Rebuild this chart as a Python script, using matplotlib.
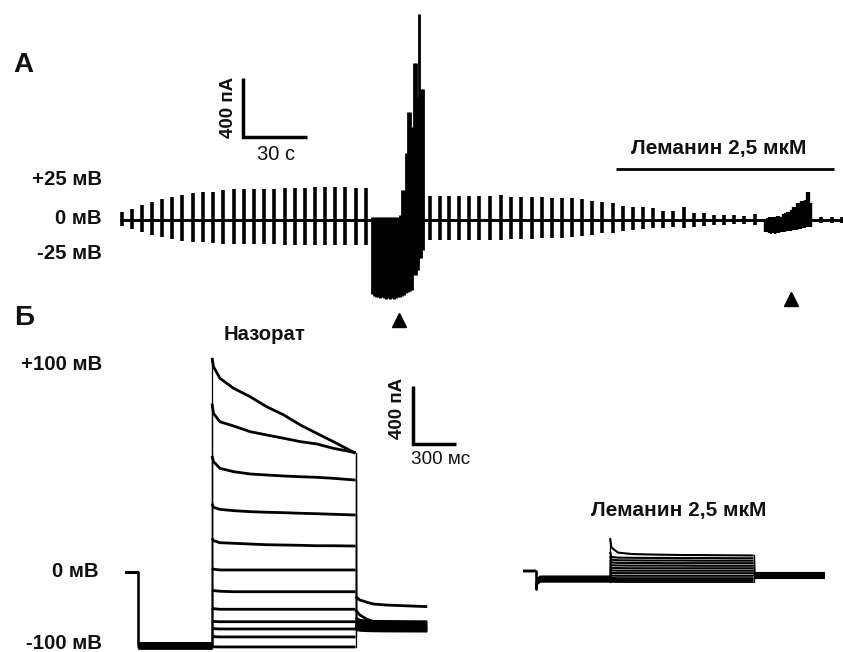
import matplotlib
matplotlib.use('Agg')
import matplotlib.pyplot as plt

W, H = 843, 652

# ================= DATA =================
# ---- Panel A: time (s), current (pA) ----
pre_t = [0.8, 5.8, 10.5, 14.9, 19.5, 24.2, 29.2, 34.0, 39.0, 43.7, 48.4, 53.5, 58.2,
         62.8, 67.5, 72.2, 77.4, 82.1, 86.8, 91.5, 96.2, 100.9, 105.6, 110.7, 115.4]
pre_up = [52, 73, 102, 120, 140, 154, 170, 181, 192, 192, 203, 208, 208,
          208, 210, 210, 215, 215, 215, 222, 222, 222, 222, 215, 215]
pre_dn = [-41, -61, -79, -102, -117, -131, -142, -147, -151, -158, -160, -162, -165,
          -165, -166, -166, -168, -168, -168, -168, -168, -168, -168, -168, -168]

ev1_t = [118.2, 119.1, 120.1, 121.0, 121.9, 122.9, 123.8, 124.8, 125.7, 126.6, 127.6,
         128.5, 129.4, 130.4, 131.3, 132.3, 133.2, 134.1, 135.1, 136.0, 136.9, 137.9,
         138.8, 139.5, 140.2, 141.2, 141.9]
ev1_up = [20, 20, 20, 20, 20, 20, 20, 20, 20, 20, 20, 20, 20, 20,
          34, 203, 203, 454, 732, 732, 631, 1064, 1064, 834, 1397, 888, 888]
ev1_dn = [-502, -515, -522, -522, -529, -522, -529, -536, -529, -536, -529, -536, -529, -522,
          -522, -515, -509, -495, -488, -481, -475, -373, -373, -339, -258, -258, -203]

post_t = [145.1, 149.8, 154.4, 159.1, 163.8, 168.5, 173.5, 178.5, 183.4, 188.0, 193.1,
          197.8, 202.5, 207.2, 211.8, 216.5, 221.2, 225.9, 230.9, 235.6, 240.3, 245.0,
          249.9, 254.5, 259.2, 264.2, 268.9, 273.6, 278.3, 283.0, 288.0, 292.7, 297.8,
          328.8, 333.8, 338.5]
post_up = [163, 163, 163, 163, 163, 163, 163, 170, 158, 158, 158, 158, 151, 151, 147, 140,
           129, 124, 113, 95, 90, 86, 79, 63, 63, 90, 49, 45, 34, 34, 34, 27, 41, 18, 18, 18]
post_dn = [-136, -136, -136, -136, -136, -136, -136, -136, -131, -131, -131, -124, -124, -120,
           -113, -108, -102, -90, -86, -75, -68, -63, -56, -56, -49, -56, -45, -41, -34, -34,
           -27, -27, -34, -18, -18, -18]

ev2_t = [302.5, 303.4, 304.4, 305.3, 306.3, 307.2, 308.1, 309.1, 310.0, 311.0, 311.9, 312.8,
         313.8, 314.7, 315.6, 316.6, 317.5, 318.5, 319.4, 320.3, 321.3, 322.2, 323.1, 324.1]
ev2_up = [0, 14, 20, 20, 20, 20, 27, 27, 20, 41, 47, 54, 54, 68, 88, 88, 115, 115, 129, 129,
          136, 190, 190, 115]
ev2_dn = [-81, -81, -88, -95, -88, -95, -88, -88, -81, -81, -81, -75, -75, -75, -68, -68, -68,
          -61, -61, -54, -54, -47, -47, -47]

baseline_t = [0, 339]
drug_bar_t = [232.5, 334.7]
drug_bar_I = 344
arrow_t = [130.8, 314.7]
arrow_I = [-678, -538]
scaleA_t, scaleA_I = 57.7, 563          # scale bar corner
scaleA_dt, scaleA_dI = 30, 400          # 30 s, 400 pA

# ---- Panel B: protocol times (ms) and currents (pA) ----
prot_t = [0, 95, 610, 1610, 2110]       # hold, prepulse, step start, step end, tail end
step_rel = [0, 10, 55, 150, 265, 380, 500, 615, 730, 845, 1000]
tail_rel = [0, 30, 80, 125, 215, 500]

ctrl_hold = 0
ctrl_pre = [-492, -498, -504, -510, -516, -522, -495, -501, -507, -513, -519, -527]
ctrl_steps = [
    [1474, 1414, 1334, 1265, 1207, 1138, 1081, 1012, 954, 897, 817],
    [1160, 1092, 1034, 1005, 966, 943, 920, 897, 881, 851, 821],
    [800, 759, 713, 690, 674, 667, 660, 655, 651, 644, 632],
    [470, 444, 430, 421, 414, 410, 407, 403, 400, 396, 391],
    [230, 214, 200, 196, 191, 186, 184, 182, 179, 179, 177],
    [25, 17, 12, 12, 12, 12, 12, 12, 12, 12, 12],
    [-124, -130, -135, -138, -138, -138, -138, -138, -138, -138, -138],
    [-250, -255, -259, -259, -259, -259, -259, -259, -259, -259, -259],
    [-340, -343, -345, -345, -345, -345, -345, -345, -345, -345, -345],
    [-390, -393, -395, -395, -395, -395, -395, -395, -395, -395, -395],
    [-445, -448, -450, -450, -450, -450, -450, -450, -450, -450, -450],
    [-515, -518, -519, -519, -519, -519, -519, -519, -519, -519, -519],
]
ctrl_tails = [
    [-172, -195, -211, -223, -230, -241],
    [-264, -299, -328, -345, -350, -352],
    [-318, -335, -340, -342, -343, -345],
    [-335, -348, -352, -354, -356, -358],
    [-350, -360, -363, -365, -366, -367],
    [-360, -368, -372, -373, -374, -375],
    [-368, -376, -380, -381, -382, -383],
    [-374, -382, -386, -387, -388, -389],
    [-380, -388, -392, -393, -394, -395],
    [-386, -394, -397, -398, -399, -400],
    [-392, -400, -403, -404, -405, -405],
    [-398, -404, -407, -408, -409, -410],
]

lem_hold = 0
lem_pre_spike = -128
lem_pre = [-40, -45, -50, -55, -58, -60, -62, -65, -68, -70, -72, -75]
lem_steps = [
    [223, 160, 125, 115, 112, 110, 108, 108, 107, 106, 105],
    [130, 95, 90, 89, 88, 88, 87, 87, 87, 86, 86],
    [100, 76, 72, 71, 70, 70, 70, 69, 69, 69, 69],
    [75, 57, 54, 53, 53, 52, 52, 52, 52, 52, 52],
    [50, 38, 36, 35, 35, 35, 35, 34, 34, 34, 34],
    [30, 20, 18, 17, 17, 17, 17, 17, 17, 17, 17],
    [10, 2, 0, 0, 0, 0, 0, 0, 0, 0, 0],
    [-10, -16, -17, -17, -17, -17, -17, -17, -17, -17, -17],
    [-28, -34, -35, -35, -35, -35, -35, -35, -35, -35, -35],
    [-45, -50, -52, -52, -52, -52, -52, -52, -52, -52, -52],
    [-60, -64, -65, -65, -65, -65, -65, -65, -65, -65, -65],
    [-72, -76, -77, -77, -77, -77, -77, -77, -77, -77, -77],
]
lem_tail = [-15, -18, -21, -24, -27, -30, -33, -36, -39, -42, -45, -48]

scaleB_t, scaleB_I = 2007, 884
scaleB_dt, scaleB_dI = 300, 400

# ================= FIGURE =================
plt.rcParams['font.family'] = ['Liberation Sans', 'DejaVu Sans']
fig = plt.figure(figsize=(W / 100, H / 100), dpi=100)
fig.patch.set_facecolor('white')


def full_axes(x0, sx, y0, sy):
    """Axes covering the whole figure; x0,y0 = pixel of data origin, sx,sy = px per unit."""
    ax = fig.add_axes([0, 0, 1, 1])
    ax.set_xlim(-x0 / sx, (W - x0) / sx)
    ax.set_ylim((y0 - H) / sy, y0 / sy)
    ax.axis('off')
    return ax


K = 'black'

# ---- Panel A ----
axA = full_axes(120, 64 / 30, 220, 59 / 400)
axA.plot(baseline_t, [0, 0], color=K, lw=2.1, solid_capstyle='butt')
axA.vlines(pre_t, pre_dn, pre_up, color=K, lw=2.6)
axA.vlines(post_t, post_dn, post_up, color=K, lw=2.6)
axA.vlines(ev1_t, ev1_dn, ev1_up, color=K, lw=2.0)
axA.vlines(ev2_t, ev2_dn, ev2_up, color=K, lw=1.7)
axA.plot([scaleA_t, scaleA_t, scaleA_t + scaleA_dt],
         [scaleA_I + scaleA_dI, scaleA_I, scaleA_I],
         color=K, lw=2.5, solid_joinstyle='miter', solid_capstyle='butt')
axA.plot(drug_bar_t, [drug_bar_I, drug_bar_I], color=K, lw=2.0, solid_capstyle='butt')
axA.plot(arrow_t, arrow_I, ls='none', marker='^', ms=10.5, color=K)


# ---- Panel B ----
def draw_family(ax, hold, pres, steps, tails, lw_h, lw_v, spike=None):
    for i in range(len(steps)):
        t_hold = [prot_t[0], prot_t[1]]
        v_hold = [hold, hold]
        if spike is None:
            t_pre = [prot_t[1], prot_t[2]]
            v_pre = [pres[i], pres[i]]
        else:
            t_pre = [prot_t[1], prot_t[1] + 8, prot_t[1] + 30, prot_t[2]]
            v_pre = [spike, pres[i] - 15, pres[i], pres[i]]
        t_step = [prot_t[2] + r for r in step_rel]
        v_step = steps[i]
        if isinstance(tails[i], (list, tuple)):
            t_tail = [prot_t[3] + r for r in tail_rel]
            v_tail = tails[i]
        else:
            t_tail = [prot_t[3], prot_t[4]]
            v_tail = [tails[i], tails[i]]
        for tt, vv in ((t_hold, v_hold), (t_pre, v_pre), (t_step, v_step), (t_tail, v_tail)):
            ax.plot(tt, vv, color=K, lw=lw_h, solid_capstyle='butt', solid_joinstyle='miter')
        # thin vertical connections between protocol segments
        ax.plot([t_hold[-1], t_pre[0]], [v_hold[-1], v_pre[0]], color=K, lw=lw_v)
        ax.plot([t_pre[-1], t_step[0]], [v_pre[-1], v_step[0]], color=K, lw=lw_v)
        ax.plot([t_step[-1], t_tail[0]], [v_step[-1], v_tail[0]], color=K, lw=lw_v)


axB1 = full_axes(124.5, 0.1435, 571.7, 0.145)
draw_family(axB1, ctrl_hold, ctrl_pre, ctrl_steps, ctrl_tails, 2.0, 0.9)
axB1.plot([scaleB_t, scaleB_t, scaleB_t + scaleB_dt],
          [scaleB_I + scaleB_dI, scaleB_I, scaleB_I],
          color=K, lw=2.5, solid_joinstyle='miter', solid_capstyle='butt')

axB2 = full_axes(522.5, 0.1435, 570.7, 0.145)
draw_family(axB2, lem_hold, lem_pre, lem_steps, lem_tail, 1.5, 0.9, spike=lem_pre_spike)


# ---- Text ----
def txt(x, y, s, size, weight='bold', ha='left', va='baseline', rot=0):
    fig.text(x / W, 1 - y / H, s, fontsize=size, fontweight=weight, ha=ha, va=va,
             rotation=rot, color='#111111')


txt(13, 71.5, 'А', 20)
txt(14, 325, 'Б', 20)
txt(102, 185, '+25 мВ', 14.7, ha='right')
txt(102, 224.5, '0 мВ', 14.7, ha='right')
txt(102, 259, '-25 мВ', 14.7, ha='right')
txt(102, 370.5, '+100 мВ', 14.7, ha='right')
txt(99, 577, '0 мВ', 14.7, ha='right')
txt(102, 649, '-100 мВ', 14.7, ha='right')
txt(265, 339.5, 'Назорат', 14.6, ha='center')
txt(719, 154, 'Леманин 2,5 мкМ', 15, ha='center')
txt(679, 516, 'Леманин 2,5 мкМ', 15, ha='center')
txt(276, 159.5, '30 с', 14.5, weight='normal', ha='center')
txt(441, 463.5, '300 мс', 13.6, weight='normal', ha='center')
txt(228, 107, '400 пА', 13.5, ha='center', va='center', rot=90)
txt(397, 408, '400 пА', 13.5, ha='center', va='center', rot=90)

fig.savefig('out.png', dpi=100)
